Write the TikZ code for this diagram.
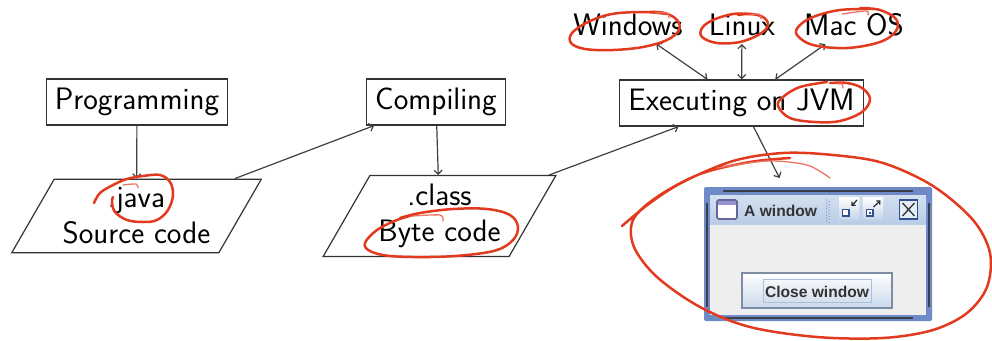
\documentclass[tikz,border=0pt]{standalone}
\usepackage{fontspec}
\newfontfamily\guifont{Liberation Sans}
\usetikzlibrary{shapes.geometric,arrows.meta}

\definecolor{penred}{HTML}{E23A1F}
\definecolor{frameblue}{HTML}{6E8BC8}
\definecolor{titletop}{HTML}{D3E0F0}
\definecolor{titlebot}{HTML}{B9CCE5}
\definecolor{panelgray}{HTML}{EEEEEE}
\definecolor{edgedark}{HTML}{3A3F4A}
\definecolor{btnedge}{HTML}{7D8DA3}
\definecolor{btnlow}{HTML}{C9D8EA}
\definecolor{focusblue}{HTML}{A9C0DC}
\definecolor{iconblue}{HTML}{2F4F8F}
\definecolor{guitextc}{HTML}{333333}

\begin{document}
\begin{tikzpicture}[x=1pt,y=-1pt,
  lbl/.style={font=\fontsize{31}{36}\selectfont\sffamily, inner sep=8.5pt},
  stagebox/.style={lbl, draw=black!80, line width=1.2pt, minimum height=46pt},
  filebox/.style={lbl, draw=black!80, line width=1.2pt, trapezium,
    trapezium left angle=60, trapezium right angle=120, align=center},
  conn/.style={draw=black!75, line width=1.2pt, -{Straight Barb[length=4pt,width=8pt]}},
  twoway/.style={draw=black!75, line width=1.2pt,
    {Straight Barb[length=4pt,width=8pt]}-{Straight Barb[length=4pt,width=8pt]}},
  pen/.style={draw=penred, line width=2.5pt, line cap=round, line join=round},
  thinpen/.style={draw=penred!70, line width=1.3pt, line cap=round},
  guitext/.style={font=\guifont\bfseries\fontsize{15.6}{18}\selectfont, text=guitextc, inner sep=0pt}
]
\useasboundingbox (0,0) rectangle (992,340);

% --- stages of the build ---
\node[stagebox] (prog) at (137,102) {Programming};
\node[stagebox] (comp) at (436,102) {Compiling};
\node[stagebox] (exec) at (741.5,103) {Executing on JVM};

\node[filebox] (java)  at (136.5,216) {.java\\Source code};
\node[filebox] (class) at (439.5,216) {.class\\Byte code};

% --- operating systems ---
\node[lbl, anchor=base] (winos) at (628,35) {Windows};
\node[lbl, anchor=base] (linux) at (742,35) {Linux};
\node[lbl, anchor=base] (macos) at (854,35) {Mac OS};

% --- the running program: a small window ---
\node[minimum width=228pt, minimum height=134pt, inner sep=0pt, outer sep=9pt] (gui) at (818,254) {};

\fill[frameblue, rounded corners=2pt] (704,187) rectangle (932,321);
\shade[top color=titletop, bottom color=titlebot] (710,195) rectangle (926,225);
\fill[panelgray] (710,225) rectangle (926,315);
\draw[edgedark, line width=1.8pt] (723,191) -- (913,191);
\draw[edgedark, line width=1.8pt] (723,318) -- (913,318);
\draw[edgedark, line width=1.3pt] (707,203) -- (707,307);
\draw[edgedark, line width=1.3pt] (929,203) -- (929,307);

% title bar icon
\draw[fill=white, draw=gray!80!blue, line width=1.6pt, rounded corners=1.5pt] (717,200) rectangle (737,219);
\fill[gray!60!blue!60] (718,201) rectangle (736,205);
\node[guitext, anchor=west] (wtitle) at (744,210.5) {A window};

% grip between title and buttons
\foreach \yy in {200,203,...,221} {
  \fill[blue!40!gray!70] (826.5,\yy) circle (0.7pt);
  \fill[blue!40!gray!70] (829,\yy+1.5) circle (0.7pt);
}

% iconify button
\shade[top color=white, bottom color=titlebot!80] (839,197) rectangle (859,219);
\draw[iconblue, fill=white, line width=1.5pt] (842.5,209.5) rectangle (849,216);
\draw[black!85, line width=1.2pt, -{Straight Barb[length=2.5pt,width=5pt]}] (857,200) -- (851.5,206);
% maximize button
\shade[top color=white, bottom color=titlebot!80] (863,197) rectangle (883,219);
\draw[iconblue, fill=white, line width=1.5pt] (866.5,209.5) rectangle (873,216);
\fill[iconblue] (869,212) rectangle (871,214);
\draw[black!85, line width=1.2pt, -{Straight Barb[length=2.5pt,width=5pt]}] (873.5,207) -- (880.5,200.5);
% close button
\draw[fill=titletop!60, draw=iconblue, line width=1.7pt] (899.5,200) rectangle (917.5,219);
\draw[black!80, line width=1.3pt] (902.5,203) -- (914.5,216) (914.5,203) -- (902.5,216);

% the one push button
\draw[btnedge, line width=1.3pt, top color=white, bottom color=btnlow] (742,273) rectangle (892,308);
\draw[focusblue, line width=0.9pt] (763,279.5) rectangle (871,302);
\node[guitext] (wbtn) at (817,291.5) {Close window};

% --- connectors ---
\draw[conn] (prog) -- (java);
\draw[conn] (java) -- (comp);
\draw[conn] (comp) -- (class);
\draw[conn] (class) -- (exec);
\draw[conn] (exec) -- (gui);
\draw[twoway] (exec) -- (winos);
\draw[twoway] (exec) -- (linux);
\draw[twoway] (exec) -- (macos);

% --- hand-drawn marks ---
\draw[pen] plot[smooth, tension=0.6] coordinates {(94,203) (100,193) (113,185) (127,179) (143,176) (160,175) (170,182) (173,195) (168,210) (157,220) (143,222) (127,220) (115,212) (112,202) (113,197)};
\draw[thinpen] plot[smooth] coordinates {(123,185) (136,184) (138,188)};

\draw[pen] plot[smooth, tension=0.6] coordinates {(420,213) (397,220) (377,230) (365,243) (370,251) (390,256) (430,257) (467,255) (497,250) (513,240) (518,227) (510,215) (487,209) (453,209) (420,213) (400,218)};
\draw[thinpen] plot[smooth] coordinates {(413,216) (440,215) (443,221)};

\draw[pen] plot[smooth, tension=0.6] coordinates {(667,14) (643,12) (612,14) (588,22) (572,33) (571,43) (585,49) (613,50) (643,47) (667,40) (679,30) (677,20) (665,13) (650,12)};
\draw[thinpen] plot[smooth] coordinates {(655,13) (667,13) (669,18)};

\draw[pen] plot[smooth, tension=0.6] coordinates {(752,14) (733,14) (713,20) (702,28) (702,37) (717,43) (740,42) (760,34) (768,25) (763,17) (750,14) (738,15)};
\draw[thinpen] plot[smooth] coordinates {(750,15) (759,14) (761,19)};

\draw[pen] plot[smooth, tension=0.6] coordinates {(873,9) (840,10) (813,17) (799,26) (797,35) (813,45) (847,48) (880,42) (896,31) (896,19) (880,10) (860,8)};
\draw[thinpen] plot[smooth] coordinates {(842,14) (866,11) (868,15)};

\draw[pen] plot[smooth, tension=0.6] coordinates {(827,82) (800,87) (783,97) (778,106) (790,118) (815,122) (840,121) (862,112) (870,99) (862,88) (847,83) (830,83)};
\draw[thinpen] plot[smooth] coordinates {(838,84) (842,84) (843,88)};

\draw[pen] plot[smooth, tension=0.55] coordinates {(622,226) (650,203) (683,182) (733,161) (783,153) (833,155) (883,163) (933,186) (973,220) (990,253) (987,287) (967,313) (933,330) (883,338) (817,337) (750,327) (700,307) (657,277) (634,247) (633,220) (657,197) (700,174) (750,162) (790,158)};
\draw[thinpen] plot[smooth] coordinates {(717,168) (767,161) (807,165) (830,178)};
\end{tikzpicture}
\end{document}
